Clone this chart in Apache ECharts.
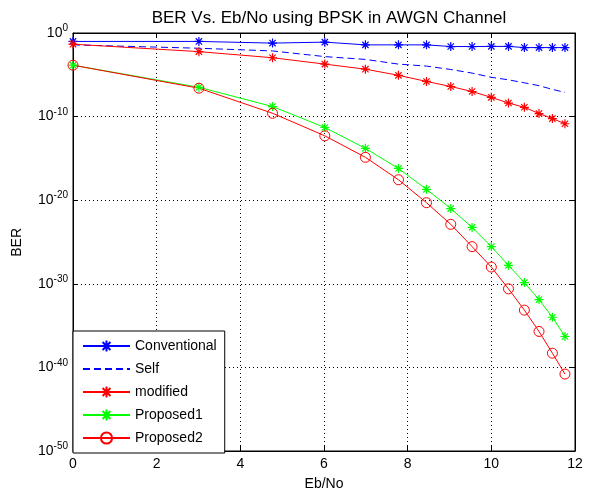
<!DOCTYPE html>
<html>
<head>
<meta charset="utf-8">
<script src="https://cdn.jsdelivr.net/npm/echarts@6/dist/echarts.min.js"></script>
<style>
html,body{margin:0;padding:0;background:#fff;}
#chart{width:611px;height:494px;}
#err{position:absolute;left:250px;top:100px;font:11px sans-serif;color:#900;width:340px;}
</style>
</head>
<body>
<div id="chart"></div>
<div id="err"></div>
<script>
window.onerror = function (m, s, l, c, e) { document.getElementById('err').textContent += ' ERR: ' + m; };
// Eb/No points (dB)
const ebno = [0, 3.01, 4.77, 6.02, 6.99, 7.78, 8.45, 9.03, 9.54, 10, 10.41, 10.79, 11.14, 11.46, 11.76];
const conventional = [0.098, 0.098, 0.062, 0.081, 0.038, 0.038, 0.038, 0.024, 0.024, 0.025, 0.025, 0.018, 0.018, 0.018, 0.018];
const self = [3.8e-2, 1.5e-2, 7.1e-3, 1.5e-3, 6.9e-4, 1.9e-4, 1.1e-4, 4.3e-5, 1.6e-5, 5.0e-6, 2.5e-6, 1.1e-6, 5.0e-7, 1.8e-7, 7.9e-8];
const modified = [4.6e-2, 5.9e-3, 1.1e-3, 1.9e-4, 4.7e-5, 8.7e-6, 1.6e-6, 4.0e-7, 1.0e-7, 2.0e-8, 4.2e-9, 1.3e-9, 2.3e-10, 5.8e-11, 1.4e-11];
const proposed1 = [1.4e-4, 3.2e-7, 1.6e-9, 5.0e-12, 1.6e-14, 6.3e-17, 2.0e-19, 1.0e-21, 5.6e-24, 2.8e-26, 1.6e-28, 1.4e-30, 1.3e-32, 1.0e-34, 5.0e-37];
const proposed2 = [1.4e-4, 2.5e-7, 2.5e-10, 5.0e-13, 1.35e-15, 2.8e-18, 5.0e-21, 1.3e-23, 2.8e-26, 1.0e-28, 2.5e-31, 7.1e-34, 2.0e-36, 5.0e-39, 1.6e-41];
const seriesNames = ['Conventional', 'Self', 'modified', 'Proposed1', 'Proposed2'];
const titleText = 'BER Vs. Eb/No using BPSK in AWGN Channel';
const xName = 'Eb/No';
const yName = 'BER';
const yMin = 1e-50;
const yMinExp = -50;

const pairs = ys => ebno.map((x, i) => [x, ys[i]]);
const STAR = 'path://M5,0L5,10M0,5L10,5M1.5,1.5L8.5,8.5M8.5,1.5L1.5,8.5';
const FONT = 'Liberation Sans, Arial, sans-serif';
const supRich = {sup: {fontFamily: FONT, fontSize: 10, fill: '#000', color: '#000', padding: [0, 0, 9, 0]}};

const chart = echarts.init(document.getElementById('chart'), null, {renderer: 'canvas'});

function mkLine(name, data, color, symbol, dashed) {
  const isCircle = symbol === 'circle';
  return {
    name: name, type: 'line', data: pairs(data),
    xAxisIndex: 0, yAxisIndex: 0,
    symbol: symbol || 'none',
    symbolSize: isCircle ? 10 : 9,
    lineStyle: {color: color, width: 1, type: dashed ? [7, 4] : 'solid'},
    itemStyle: !symbol ? {color: 'rgba(0,0,0,0)'} :
      (isCircle ? {color: 'rgba(255,255,255,0)', borderColor: color, borderWidth: 1}
                : {color: color, borderColor: color, borderWidth: 1.2}),
    emphasis: {disabled: true},
    z: 3
  };
}

const tickStyle = {inside: true, length: 5, lineStyle: {color: '#000'}};
const lineBlack = {onZero: false, lineStyle: {color: '#000', width: 1}};

try {
chart.setOption({
  backgroundColor: '#fff',
  animation: false,
  title: {
    text: titleText, left: 324, top: 5, textAlign: 'center',
    textStyle: {fontFamily: FONT, fontSize: 17, fontWeight: 'normal', color: '#000'}
  },
  grid: {left: 73, right: 36, top: 33, bottom: 43, show: true, borderColor: '#000', borderWidth: 1,
    backgroundColor: '#fff', containLabel: false, outerBoundsMode: 'none'},
  legend: {
    orient: 'vertical', left: 73, top: 331,
    padding: [8, 8, 8, 9],
    itemWidth: 47, itemHeight: 14, itemGap: 9,
    backgroundColor: '#fff', borderColor: '#000', borderWidth: 1,
    textStyle: {fontFamily: FONT, fontSize: 14, color: '#000'},
    data: seriesNames,
    selectedMode: false,
    z: 10
  },
  xAxis: [{
    type: 'value', min: 0, max: 12, interval: 2,
    name: xName, nameLocation: 'middle', nameGap: 26,
    nameTextStyle: {fontFamily: FONT, fontSize: 14, color: '#000'},
    axisLine: lineBlack, axisTick: tickStyle,
    axisLabel: {fontFamily: FONT, fontSize: 14, color: '#000', margin: 6, showMinLabel: true, showMaxLabel: true},
    splitLine: {show: true, lineStyle: {color: '#000', type: [1, 3], width: 1}}
  }, {
    type: 'value', min: 0, max: 12, interval: 2, position: 'top',
    axisLine: lineBlack, axisTick: tickStyle,
    axisLabel: {show: false}, splitLine: {show: false}
  }],
  yAxis: [{
    type: 'log', logBase: 10, min: yMin, max: 1, splitNumber: 5,
    axisLine: lineBlack, axisTick: tickStyle,
    axisLabel: {
      fontFamily: FONT, fontSize: 14, color: '#000', margin: 5,
      showMinLabel: true, showMaxLabel: true,
      formatter: function (v) {
        const e = Math.round(Math.log10(v));
        return e === yMinExp ? '' : '10{sup|' + e + '}';
      },
      rich: supRich
    },
    splitLine: {show: true, lineStyle: {color: '#000', type: [1, 3], width: 1}}
  }, {
    type: 'log', logBase: 10, min: yMin, max: 1, splitNumber: 5, position: 'right',
    axisLine: lineBlack, axisTick: tickStyle,
    axisLabel: {show: false}, splitLine: {show: false}
  }],
  series: [
    mkLine(seriesNames[0], conventional, '#0000ff', STAR),
    mkLine(seriesNames[1], self, '#0000ff', null, true),
    mkLine(seriesNames[2], modified, '#ff0000', STAR),
    mkLine(seriesNames[3], proposed1, '#00ff00', STAR),
    mkLine(seriesNames[4], proposed2, '#ff0000', 'circle'),
    {type: 'line', xAxisIndex: 1, yAxisIndex: 1, data: [], symbol: 'none', silent: true}
  ]
});

// bottom tick label placed through the library's own y scale
const pMin = chart.convertToPixel({xAxisIndex: 0, yAxisIndex: 0}, [0, yMin]);
chart.setOption({
  graphic: [{
    type: 'text', left: 10, top: 228, rotation: Math.PI / 2,
    style: {text: yName, font: '14px Liberation Sans, Arial, sans-serif', fill: '#000'}
  }, {
    type: 'text', x: pMin[0] - 5, y: pMin[1],
    style: {
      text: '10{sup|' + yMinExp + '}', align: 'right', verticalAlign: 'middle',
      font: '14px Liberation Sans, Arial, sans-serif', fill: '#000',
      rich: {sup: {font: '10px Liberation Sans, Arial, sans-serif', fill: '#000', padding: [0, 0, 9, 0]}}
    }
  }]
});
} catch (e) { document.getElementById('err').textContent += ' CATCH: ' + e.message; }
</script>
</body>
</html>
